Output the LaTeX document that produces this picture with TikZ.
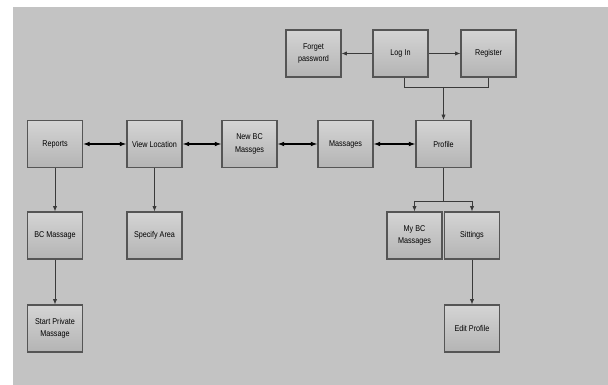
\documentclass[tikz,border=0pt]{standalone}
\usepackage{fontspec}
\setmainfont{Liberation Sans}[FakeStretch=0.86]
\usetikzlibrary{arrows.meta}
\definecolor{bgc}{HTML}{C3C3C3}
\definecolor{boxtop}{HTML}{D4D4D4}
\definecolor{boxbot}{HTML}{B4B4B4}
\definecolor{edge}{HTML}{555555}
\definecolor{wire}{HTML}{3A3A3A}
\begin{document}
\begin{tikzpicture}[x=0.75pt,y=-0.75pt,
  screen/.style={draw=edge,line width=0.85pt,top color=boxtop,bottom color=boxbot,
    minimum width=41.25pt,minimum height=35.25pt,inner sep=1pt,align=center,
    font=\fontsize{6.3}{9.2}\selectfont},
  link/.style={draw=wire,line width=0.55pt,-{Latex[length=4pt,width=3.2pt]}},
  blink/.style={draw=black,line width=0.9pt,{Latex[length=5pt,width=3.6pt]}-{Latex[length=5pt,width=3.6pt]}},
  plain/.style={draw=wire,line width=0.55pt}]
\useasboundingbox (0,0) rectangle (608,385);
\fill[white] (0,0) rectangle (608,385);
\fill[bgc] (13,7) rectangle (608,385);
% top row
\node[screen] (forget) at (313.5,53.5) {Forget\\password};
\node[screen] (login) at (400.5,53.5) {Log In};
\node[screen] (register) at (488.5,53.5) {Register};
% main row
\node[screen] (reports) at (55,144) {Reports};
\node[screen] (viewloc) at (154.5,144) {View Location};
\node[screen] (newbc) at (249.5,144) {New BC\\Massges};
\node[screen] (massages) at (345.5,144) {Massages};
\node[screen] (profile) at (443.5,144) {Profile};
% lower rows
\node[screen] (bcmass) at (55,235.5) {BC Massage};
\node[screen] (specify) at (154.5,235.5) {Specify Area};
\node[screen] (mybc) at (414.5,235.5) {My BC\\Massages};
\node[screen] (sittings) at (472,235.5) {Sittings};
\node[screen] (startpriv) at (55,328.5) {Start Private\\Massage};
\node[screen] (editprof) at (472,328.5) {Edit Profile};
% junction coordinates
\coordinate (jl) at (404,87);
\coordinate (jr) at (488,87);
\coordinate (jm) at (443.5,87);
\coordinate (pj) at (443.5,201);
\coordinate (pjl) at (414.5,201);
\coordinate (pjr) at (472,201);
% connectors
\draw[link] (login) -- (forget);
\draw[link] (login) -- (register);
\draw[plain] (login.south -| jl) -- (jl) -- (jr) -- (register.south -| jr);
\draw[link] (jm) -- (profile);
\draw[blink] (reports) -- (viewloc);
\draw[blink] (viewloc) -- (newbc);
\draw[blink] (newbc) -- (massages);
\draw[blink] (massages) -- (profile);
\draw[link] (reports) -- (bcmass);
\draw[link] (bcmass) -- (startpriv);
\draw[link] (viewloc) -- (specify);
\draw[plain] (profile) -- (pj);
\draw[plain] (pjl) -- (pjr);
\draw[link] (pjl) -- (mybc);
\draw[link] (pjr) -- (sittings);
\draw[link] (sittings) -- (editprof);
\end{tikzpicture}
\end{document}
